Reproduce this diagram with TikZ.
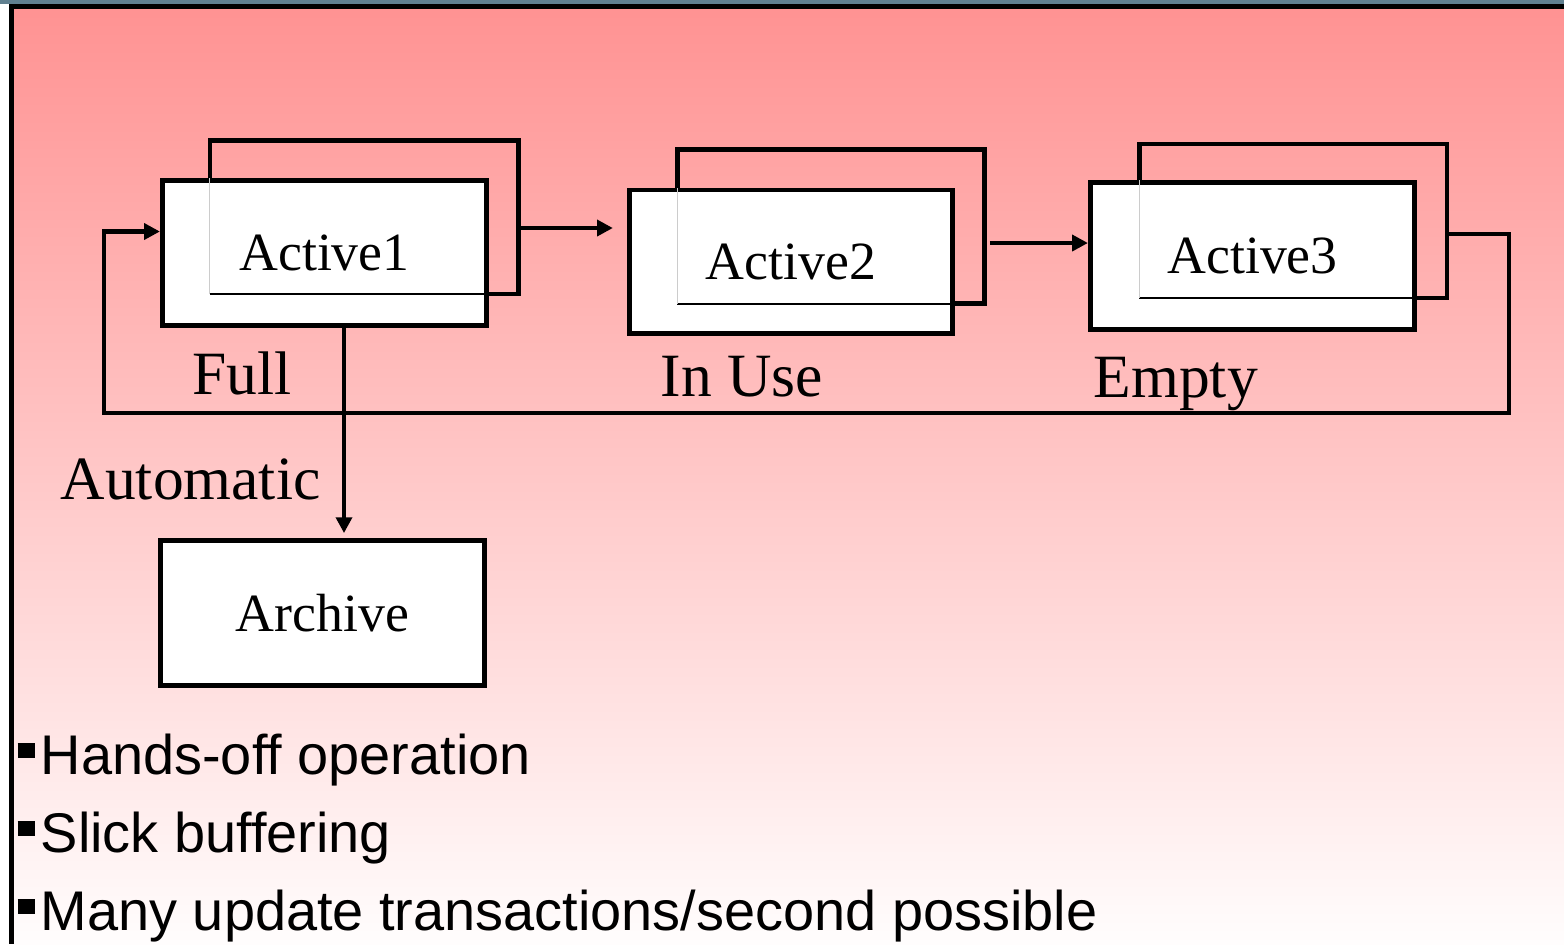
\documentclass[tikz,border=0pt]{standalone}
\usepackage{fontspec}
\setmainfont{Liberation Serif}
\newfontfamily\arialfont{Liberation Sans}
\usetikzlibrary{arrows.meta}
\definecolor{slidepink}{RGB}{255,146,146}
\definecolor{slidewhite}{RGB}{255,253,253}
\definecolor{topbar}{RGB}{96,128,144}

\begin{document}
\begin{tikzpicture}[
				x=0.01cm, y=-0.01cm,
				box/.style = {draw, fill=white, line width=1.4pt, inner sep=0pt, font=\fontsize{15.3}{18}\selectfont},
				back/.style = {draw, line width=1.3pt, inner sep=0pt, outer sep=0pt},
				lbl/.style = {anchor=base west, inner sep=0pt, font=\fontsize{17.5}{21}\selectfont},
				bullet/.style = {anchor=base west, inner sep=0pt, font=\arialfont\fontsize{15.9}{19}\selectfont},
				arrow/.style = {-{Triangle[length=4.5pt, width=4.5pt]}, line width=1.2pt}
				]
				\useasboundingbox (0,0) rectangle (1564,944);
				
				% slide background
				\fill[white] (0,0) rectangle (1564,944);
				\shade[top color=slidepink, bottom color=slidewhite] (9,4) rectangle (1564,944);
				\fill[topbar] (0,0) rectangle (1564,4);
				\fill (9,4) rectangle (1564,9);
				\fill (9,4) rectangle (14,944);
				
				% log groups
				\node[back, minimum width=3.085cm, minimum height=1.535cm] (B1) at (364.25,217.25) {};
				\node[back, minimum width=3.07cm, minimum height=1.54cm] (B2) at (831,226.5) {};
				\node[back, minimum width=3.075cm, minimum height=1.54cm] (B3) at (1293.25,221) {};
				
				\node[box, minimum width=3.24cm, minimum height=1.445cm] (A1) at (324.5,252.75) {Active1};
				\node[box, minimum width=3.23cm, minimum height=1.435cm] (A2) at (791,261.75) {Active2};
				\node[box, minimum width=3.24cm, minimum height=1.47cm] (A3) at (1252.5,256) {Active3};
				\node[box, minimum width=3.24cm, minimum height=1.45cm] (Ar) at (322.5,613) {Archive};
				
				\foreach \b/\a in {B1/A1, B2/A2, B3/A3} {
					\draw[line width=0.6pt] (\b.south west) -- (\b.south east);
					\draw[gray!40, line width=0.3pt] (\b.south west) -- (\b.west |- \a.north);
				}
				
				% states
				\node[lbl] (full) at (192,394) {Full};
				\node[lbl] (inuse) at (660,396) {In Use};
				\node[lbl] (empty) at (1093,397) {Empty};
				\node[lbl] (auto) at (60,499) {Automatic};
				
				\coordinate (loopR) at (1509,413);
				\coordinate (loopL) at (104,413);
				
				\draw[arrow, shorten >=4pt] (B1.east |- 0,228) -- (A2.west |- 0,228);
				\draw[arrow, shorten <=1.5pt] (B2.east |- 0,243) -- (A3.west |- 0,243);
				\draw[arrow] (B3.east |- 0,234) -| (loopR) -- (loopL) |- (A1.west |- 0,231.5);
				\draw[arrow, shorten >=1.4pt] (A1.south -| 344,0) -- (Ar.north -| 344,0);
				
				% bullet points
				\node[bullet] (pt1) at (17,774) {\rule[0.16cm]{0.17cm}{0.15cm}\hspace{0.06cm}Hands-off operation};
				\node[bullet] (pt2) at (17,852) {\rule[0.16cm]{0.17cm}{0.15cm}\hspace{0.06cm}Slick buffering};
				\node[bullet] (pt3) at (17,930) {\rule[0.16cm]{0.17cm}{0.15cm}\hspace{0.06cm}Many update transactions/second possible};
			\end{tikzpicture}
\end{document}
